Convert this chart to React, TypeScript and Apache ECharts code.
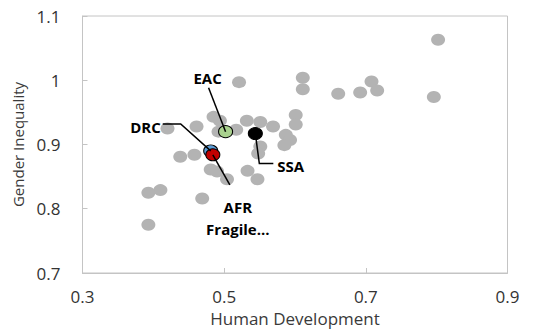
import React, { useEffect, useRef } from "react";
import * as echarts from "echarts";

const grayHD = [0.802, 0.796, 0.708, 0.716, 0.692, 0.661, 0.611, 0.611, 0.521, 0.601, 0.601, 0.587, 0.593, 0.585, 0.569, 0.551, 0.532, 0.551, 0.548, 0.517, 0.485, 0.494, 0.492, 0.461, 0.420, 0.458, 0.438, 0.481, 0.490, 0.504, 0.533, 0.547, 0.469, 0.410, 0.393, 0.393];
const grayGI = [1.063, 0.974, 0.998, 0.984, 0.981, 0.979, 1.004, 0.986, 0.997, 0.946, 0.931, 0.915, 0.907, 0.899, 0.928, 0.935, 0.937, 0.897, 0.886, 0.923, 0.943, 0.937, 0.920, 0.928, 0.925, 0.884, 0.881, 0.861, 0.858, 0.846, 0.859, 0.846, 0.816, 0.829, 0.825, 0.775];

const highlightNames = ["EAC", "SSA", "DRC", "AFR Fragile..."];
const highlightHD = [0.502, 0.544, 0.481, 0.484];
const highlightGI = [0.920, 0.917, 0.890, 0.884];
const highlightColors = ["#a9d18e", "#000000", "#5b9bd5", "#c00000"];

const xTicks = [0.3, 0.5, 0.7, 0.9];

const FONT = "'Open Sans', 'Noto Sans', sans-serif";

export default function App() {
  const ref = useRef<HTMLDivElement>(null);
  useEffect(() => {
    if (!ref.current) return;
    const chart = echarts.init(ref.current, undefined, { renderer: "svg" });
    const grayData = grayHD.map((x, i) => [x, grayGI[i]]);
    const hlData = highlightHD.map((x, i) => ({
      value: [x, highlightGI[i]],
      name: highlightNames[i],
      itemStyle: { color: highlightColors[i], borderColor: "#000", borderWidth: 1, opacity: 1 },
    }));
    chart.setOption({
      animation: false,
      grid: {
        left: 82.5,
        right: 26.5,
        top: 16,
        bottom: 58,
        show: true,
        borderColor: "#c4c4c4",
        borderWidth: 1,
      },
      xAxis: {
        type: "value",
        min: 0.3,
        max: 0.9,
        name: "Human Development",
        nameLocation: "middle",
        nameGap: 37,
        nameTextStyle: { fontFamily: FONT, fontSize: 17, color: "#3a3a3a" },
        axisLine: { show: true, lineStyle: { color: "#c4c4c4" } },
        axisTick: { show: true, inside: true, length: 5, lineStyle: { color: "#c4c4c4" }, customValues: xTicks },
        splitLine: { show: false },
        axisLabel: {
          customValues: xTicks,
          margin: 15,
          fontFamily: FONT,
          fontSize: 17,
          color: "#333",
        },
      },
      yAxis: {
        type: "value",
        min: 0.7,
        max: 1.1,
        interval: 0.1,
        name: "Gender Inequality",
        nameLocation: "middle",
        nameGap: 50,
        nameTextStyle: { fontFamily: FONT, fontSize: 15, color: "#3a3a3a" },
        axisLine: { show: true, lineStyle: { color: "#c4c4c4" } },
        axisTick: { show: true, inside: true, length: 5, lineStyle: { color: "#c4c4c4" } },
        splitLine: { show: false },
        axisLabel: {
          margin: 22,
          fontFamily: FONT,
          fontSize: 17,
          color: "#333",
          formatter: (v: number) => String(Math.round(v * 10) / 10),
        },
      },
      series: [
        {
          type: "scatter",
          data: grayData,
          symbol: "circle",
          symbolSize: [14, 12],
          itemStyle: { color: "#b3b3b3", opacity: 1 },
          z: 2,
        },
        {
          type: "scatter",
          data: hlData,
          symbol: "circle",
          symbolSize: [14, 12],
          itemStyle: { opacity: 1 },
          z: 3,
        },
      ],
    });

    const p = highlightHD.map((x, i) => chart.convertToPixel({ gridIndex: 0 }, [x, highlightGI[i]]) as number[]);
    const [eac, ssa, drc, afr] = p;
    const lineStyle = { stroke: "#000", lineWidth: 1.5, fill: null };
    const labelStyle = { fontFamily: FONT, fontSize: 15, fontWeight: "bold", fill: "#000" };
    chart.setOption({
      graphic: [
        { type: "polyline", z: 100, shape: { points: [[eac[0] - 17, eac[1] - 44], [eac[0], eac[1]]] }, style: lineStyle },
        { type: "text", z: 100, x: eac[0] - 18, y: eac[1] - 54, style: { ...labelStyle, text: highlightNames[0], align: "center", verticalAlign: "middle" } },
        { type: "polyline", z: 100, shape: { points: [[drc[0], drc[1]], [drc[0] - 30, drc[1] - 27], [drc[0] - 48, drc[1] - 27]] }, style: lineStyle },
        { type: "text", z: 100, x: drc[0] - 50, y: drc[1] - 24, style: { ...labelStyle, text: highlightNames[2], align: "right", verticalAlign: "middle" } },
        { type: "polyline", z: 100, shape: { points: [[ssa[0], ssa[1]], [ssa[0] + 4, ssa[1] + 30], [ssa[0] + 18, ssa[1] + 30]] }, style: lineStyle },
        { type: "text", z: 100, x: ssa[0] + 22, y: ssa[1] + 32, style: { ...labelStyle, text: highlightNames[1], align: "left", verticalAlign: "middle" } },
        { type: "polyline", z: 100, shape: { points: [[afr[0], afr[1]], [afr[0] + 17, afr[1] + 30]] }, style: lineStyle },
        { type: "text", z: 100, x: afr[0] + 25, y: afr[1] + 52, style: { ...labelStyle, text: "AFR", align: "center", verticalAlign: "middle" } },
        { type: "text", z: 100, x: afr[0] + 25, y: afr[1] + 74, style: { ...labelStyle, text: "Fragile...", align: "center", verticalAlign: "middle" } },
      ],
    });
    return () => chart.dispose();
  }, []);
  return <div ref={ref} style={{ position: "fixed", left: 0, top: 0, width: 534, height: 332, background: "#fff" }} />;
}
